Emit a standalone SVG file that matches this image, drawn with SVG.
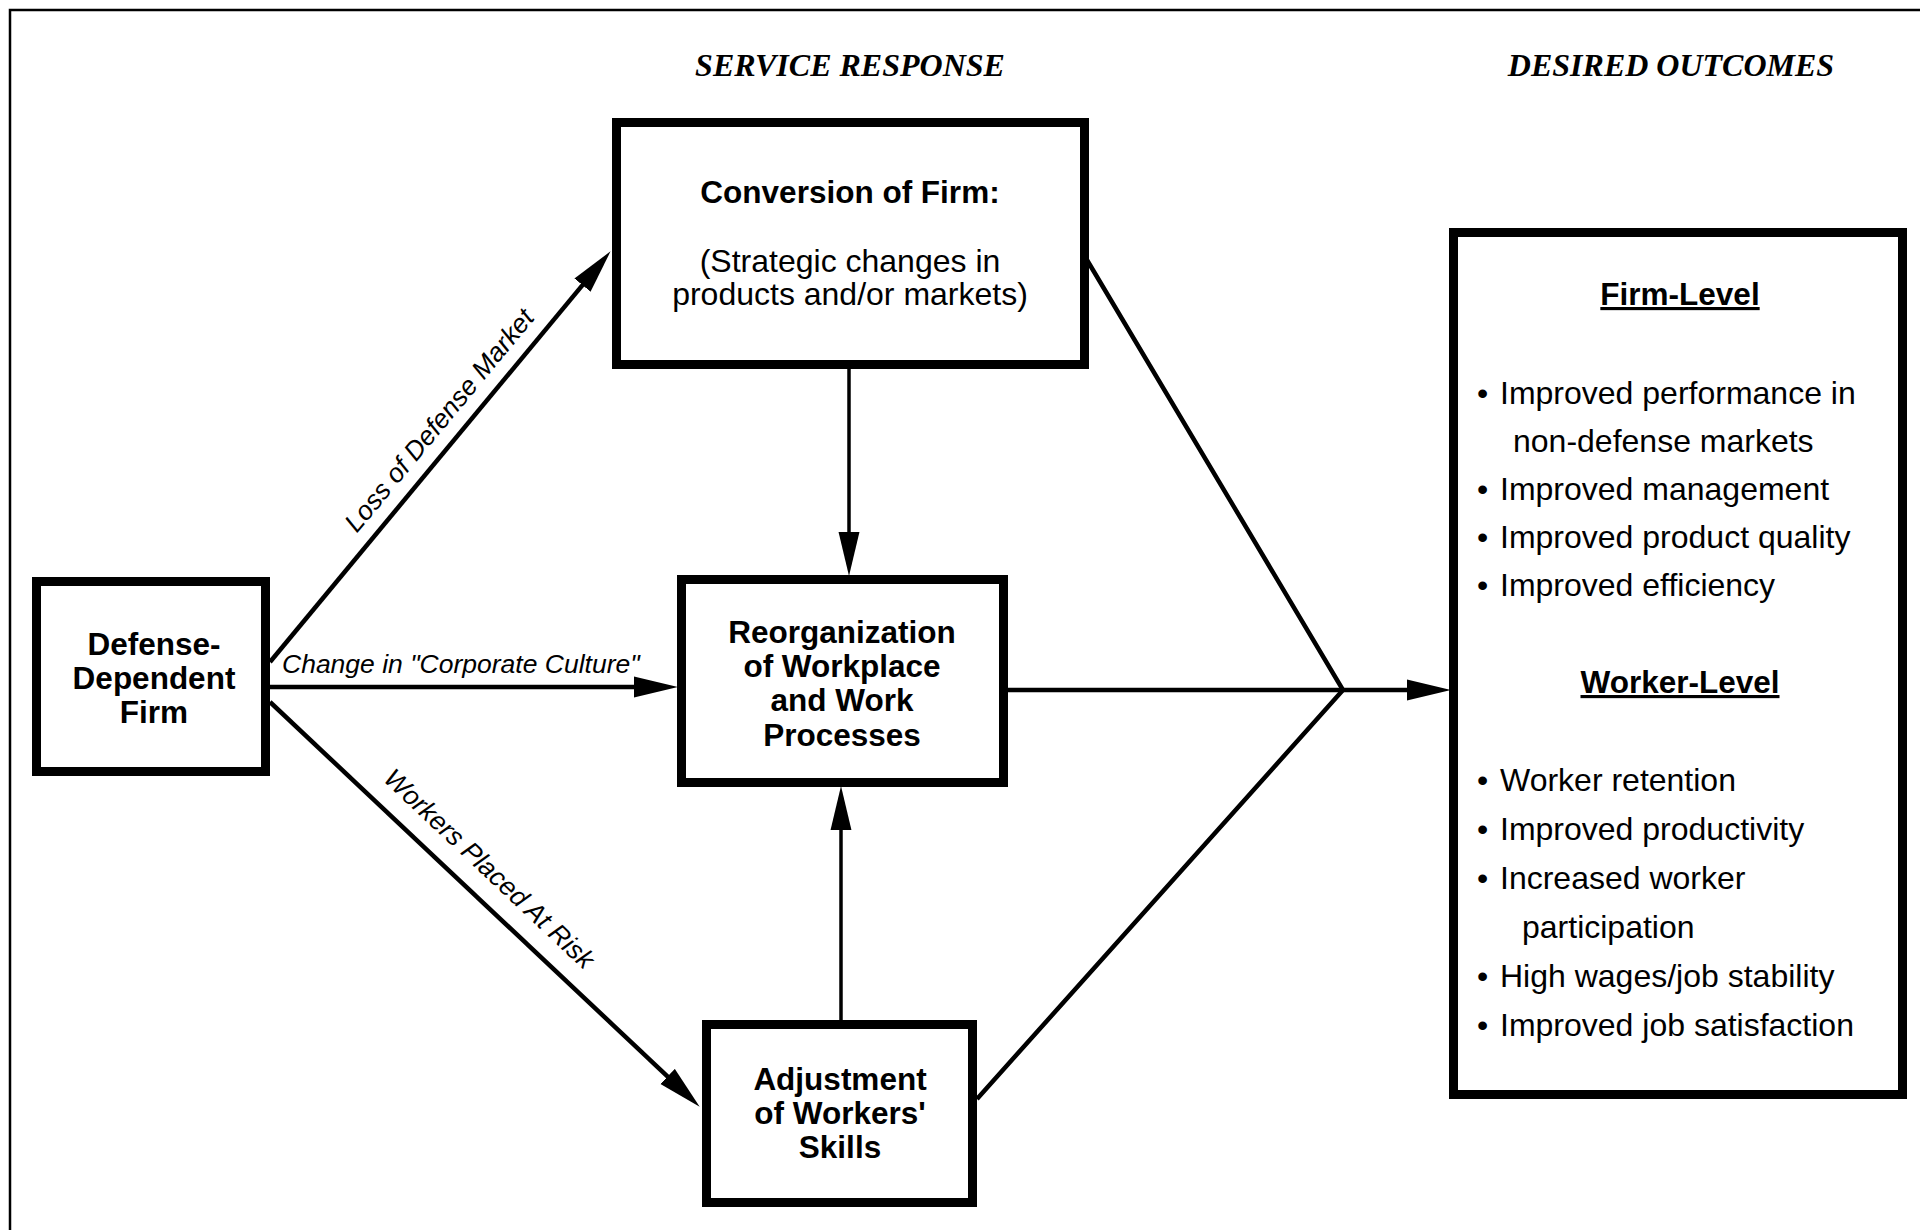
<svg xmlns="http://www.w3.org/2000/svg" width="1920" height="1230" viewBox="0 0 1920 1230">
<defs>
<style>
.box{fill:#fff;stroke:#000;stroke-width:9}
.bt{font-family:"Liberation Sans",Arial,Helvetica,sans-serif;font-weight:bold;font-size:31.5px;text-anchor:middle;fill:#000}
.rt{font-family:"Liberation Sans",Arial,Helvetica,sans-serif;font-size:32px;fill:#000}
.lab{font-family:"Liberation Sans",Arial,Helvetica,sans-serif;font-style:italic;font-size:26.5px;fill:#000}
.hdr{font-family:"Liberation Serif","Times New Roman",serif;font-style:italic;font-weight:bold;font-size:32px;text-anchor:middle;fill:#000}
.ln{fill:none;stroke:#000;stroke-width:4.5}
.vl{fill:none;stroke:#000;stroke-width:3.5}
</style>
<marker id="ah" markerUnits="userSpaceOnUse" markerWidth="44" markerHeight="22" viewBox="0 0 42 20" refX="22" refY="10" orient="auto">
<path d="M0,0 L42,10 L0,20 z" fill="#000"/>
</marker>
</defs>
<rect x="0" y="0" width="1920" height="1230" fill="#fff"/>
<path d="M10,1230 V10 H1920" fill="none" stroke="#000" stroke-width="2.5"/>

<text class="hdr" x="850" y="76">SERVICE RESPONSE</text>
<text class="hdr" x="1671" y="76">DESIRED OUTCOMES</text>

<g id="connectors">
<line class="ln" x1="270" y1="662" x2="597.2" y2="267.4" marker-end="url(#ah)"/>
<line class="ln" x1="270" y1="687" x2="657" y2="687" marker-end="url(#ah)"/>
<line class="ln" x1="270" y1="702" x2="684.4" y2="1092.3" marker-end="url(#ah)"/>
<line class="vl" x1="849" y1="369" x2="849" y2="555" marker-end="url(#ah)"/>
<line class="vl" x1="841" y1="1020" x2="841" y2="807" marker-end="url(#ah)"/>
<path class="ln" d="M1087,260 L1343,690 L977,1099"/>
<line class="ln" x1="1008" y1="690" x2="1430" y2="690" marker-end="url(#ah)"/>
<text class="lab" transform="translate(457.7,435.7) rotate(-50.33)" x="0" y="-15" text-anchor="middle">Loss of Defense Market</text>
<text class="lab" x="282" y="673">Change in "Corporate Culture"</text>
<text class="lab" transform="translate(469.5,889.9) rotate(43.28)" x="0" y="-20" text-anchor="middle">Workers Placed At Risk</text>
</g>

<g id="node-defense">
<rect class="box" x="36.5" y="581.5" width="229" height="190"/>
<text class="bt" x="154" y="655">Defense-</text>
<text class="bt" x="154" y="689">Dependent</text>
<text class="bt" x="154" y="723">Firm</text>
</g>

<g id="node-conversion">
<rect class="box" x="616.5" y="122.5" width="468" height="242"/>
<text class="bt" x="850" y="203">Conversion of Firm:</text>
<text class="rt" x="850" y="272" text-anchor="middle" font-size="31.5">(Strategic changes in</text>
<text class="rt" x="850" y="305" text-anchor="middle" font-size="31.5">products and/or markets)</text>
</g>

<g id="node-reorganization">
<rect class="box" x="681.5" y="579.5" width="322" height="203"/>
<text class="bt" x="842" y="643">Reorganization</text>
<text class="bt" x="842" y="677">of Workplace</text>
<text class="bt" x="842" y="711">and Work</text>
<text class="bt" x="842" y="746">Processes</text>
</g>

<g id="node-adjustment">
<rect class="box" x="706.5" y="1024.5" width="266" height="178"/>
<text class="bt" x="840" y="1090">Adjustment</text>
<text class="bt" x="840" y="1124">of Workers'</text>
<text class="bt" x="840" y="1158">Skills</text>
</g>

<g id="node-outcomes">
<rect class="box" x="1453.5" y="232.5" width="449" height="862"/>
<text class="bt" x="1680" y="305" text-decoration="underline">Firm-Level</text>
<text class="rt" x="1477" y="404">•<tspan x="1500">Improved performance in</tspan></text>
<text class="rt" x="1513" y="452">non-defense markets</text>
<text class="rt" x="1477" y="500">•<tspan x="1500">Improved management</tspan></text>
<text class="rt" x="1477" y="548">•<tspan x="1500">Improved product quality</tspan></text>
<text class="rt" x="1477" y="596">•<tspan x="1500">Improved efficiency</tspan></text>
<text class="bt" x="1680" y="693" text-decoration="underline">Worker-Level</text>
<text class="rt" x="1477" y="791">•<tspan x="1500">Worker retention</tspan></text>
<text class="rt" x="1477" y="840">•<tspan x="1500">Improved productivity</tspan></text>
<text class="rt" x="1477" y="889">•<tspan x="1500">Increased worker</tspan></text>
<text class="rt" x="1522" y="938">participation</text>
<text class="rt" x="1477" y="987">•<tspan x="1500">High wages/job stability</tspan></text>
<text class="rt" x="1477" y="1036">•<tspan x="1500">Improved job satisfaction</tspan></text>
</g>
</svg>
